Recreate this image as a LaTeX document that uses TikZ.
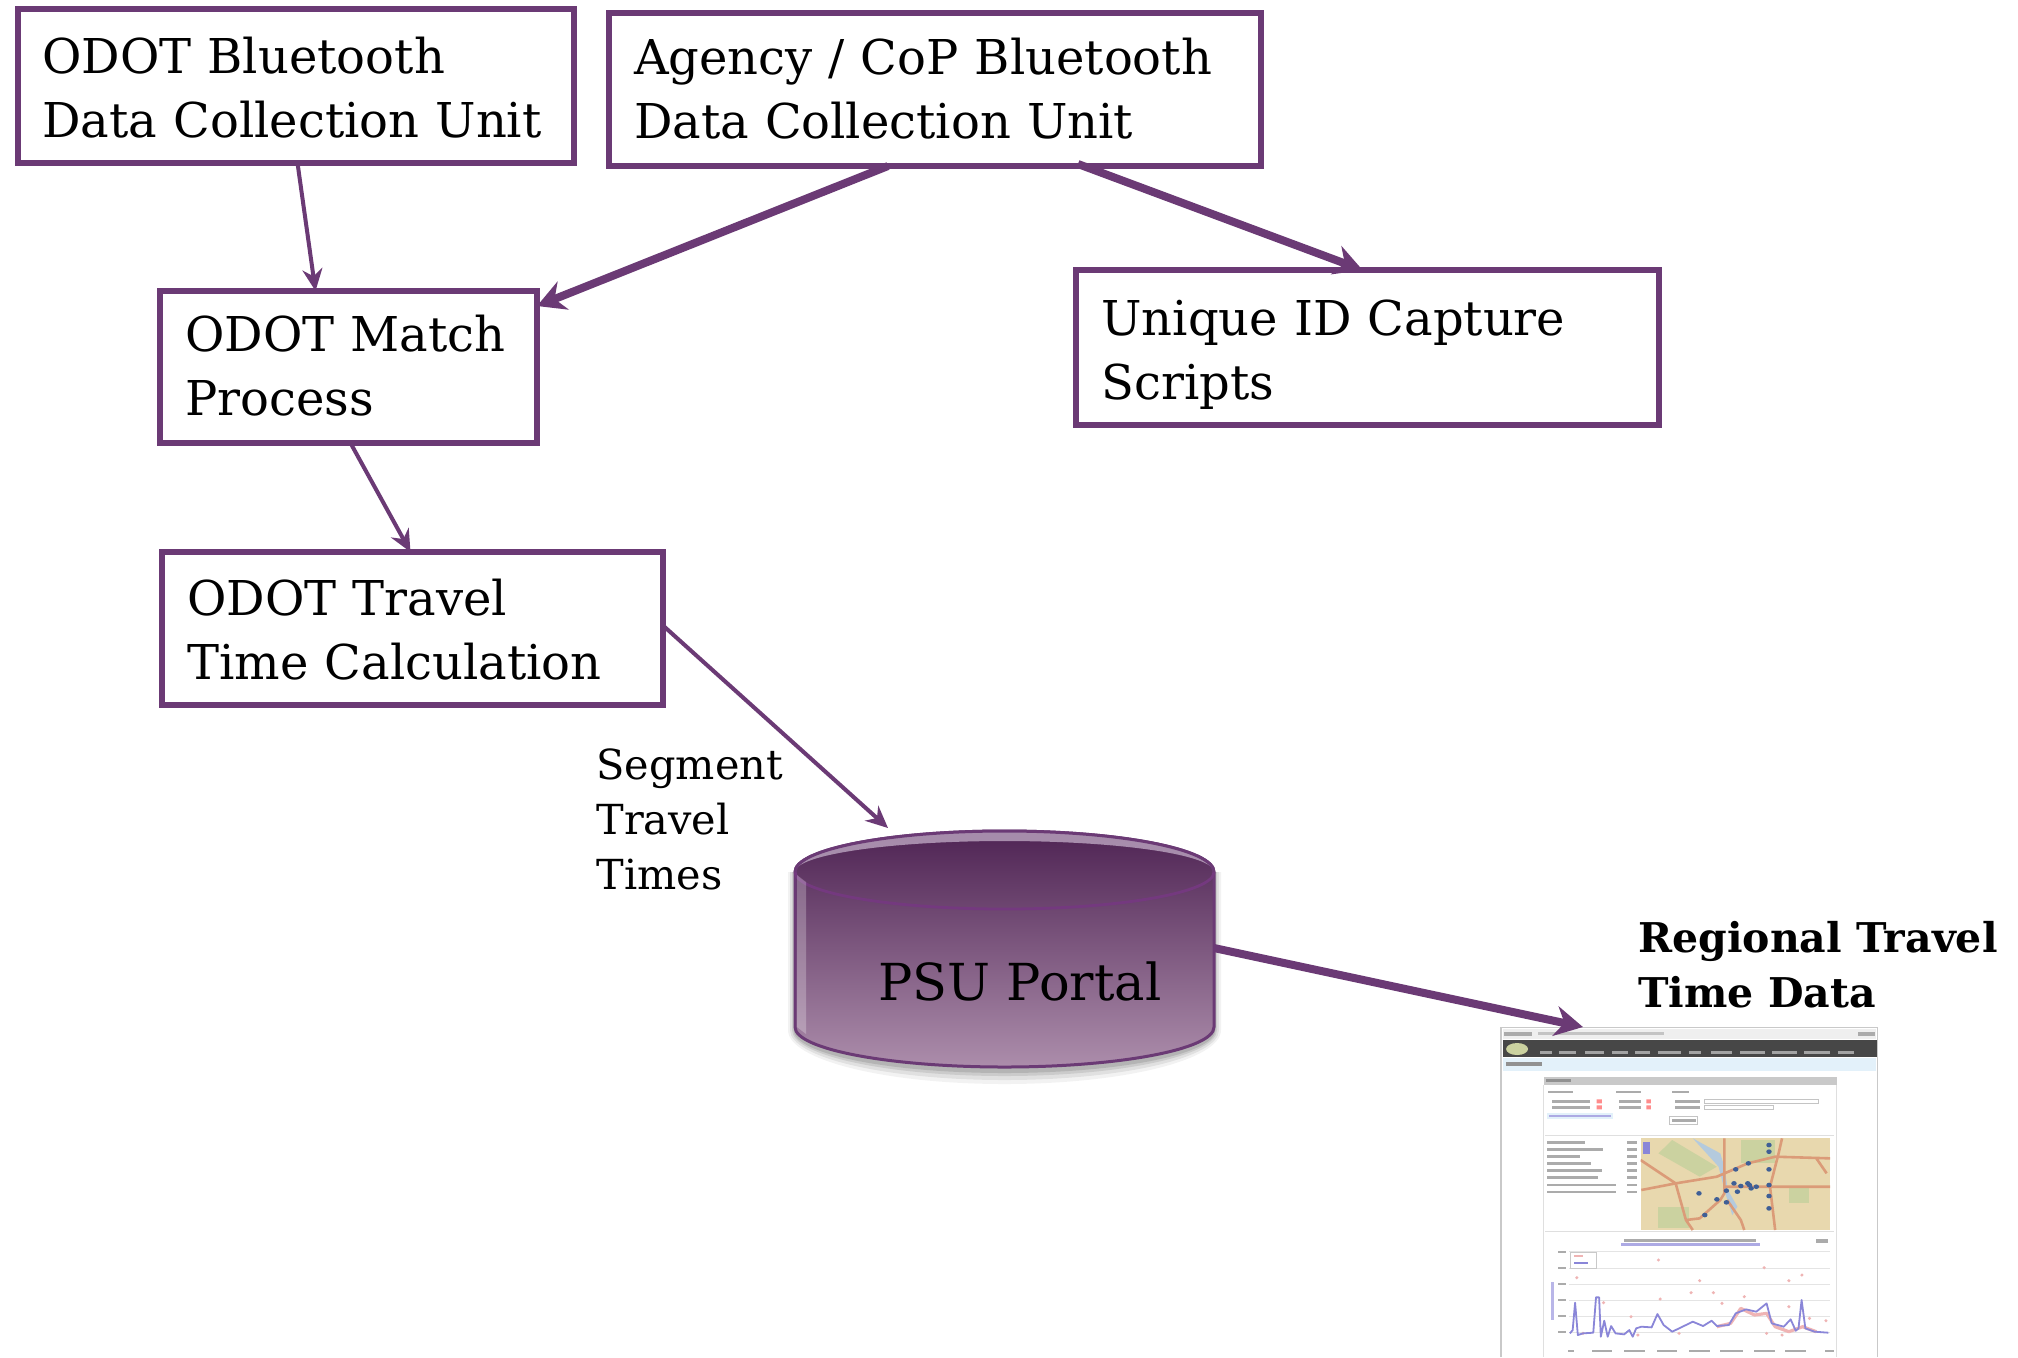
\documentclass[tikz,border=0pt]{standalone}
\usepackage{fontspec}
\setmainfont{DejaVu Serif}
\usetikzlibrary{arrows.meta,calc}
\definecolor{plum}{HTML}{6B3A75}
\definecolor{plumrim}{HTML}{74397F}
\definecolor{plumdark}{HTML}{4F2454}
\definecolor{plumlight}{HTML}{AC8DAB}
\definecolor{shotbar}{HTML}{474747}
\definecolor{shotblue}{HTML}{E3F1FA}
\definecolor{shotgrey}{HTML}{C9C9C9}
\definecolor{greytext}{HTML}{ABABAB}
\definecolor{maptan}{HTML}{E8D8AE}
\definecolor{maproad}{HTML}{DB9B78}
\definecolor{mapwater}{HTML}{B4CADD}
\definecolor{mapgreen}{HTML}{CBD2A0}
\definecolor{mapdot}{HTML}{3F5F96}
\definecolor{lineblue}{HTML}{8A86D8}
\definecolor{linered}{HTML}{EFB4B4}
\tikzset{
  stepbox/.style={draw=plum,line width=3pt,fill=white,inner sep=0pt,outer sep=0pt,rectangle,
    align=left,font=\fontsize{24}{32}\selectfont},
  thinarrow/.style={draw=plum,line width=2pt,-{Stealth[length=11pt,width=10pt]}},
  thickarrow/.style={draw=plum,line width=4pt,-{Stealth[length=14pt,width=15pt]}},
  freetext/.style={inner sep=0pt,align=left,anchor=north west},
}
\newcommand{\boxlines}[3][0pt]{\rule{0pt}{\dimexpr26pt-#1\relax}#2\\#3\rule[\dimexpr-7pt-#1\relax]{0pt}{\dimexpr7pt+#1\relax}}
\begin{document}
\begin{tikzpicture}[x=0.5pt,y=-0.5pt]
\useasboundingbox[fill=white] (0,0) rectangle (2018,1357);

% boxes
\node[stepbox,minimum width=278pt,minimum height=77pt,text width=253pt] (odotunit) at (295.5,86) {\boxlines{ODOT Bluetooth}{Data Collection Unit}};
\node[stepbox,minimum width=326pt,minimum height=76.5pt,text width=301pt] (agencyunit) at (935,89.5) {\boxlines[1pt]{Agency / CoP Bluetooth}{Data Collection Unit}};
\node[stepbox,minimum width=188.5pt,minimum height=76pt,text width=163pt] (match) at (348.5,367) {\boxlines[1.3pt]{ODOT Match}{Process}};
\node[stepbox,minimum width=291.5pt,minimum height=77.5pt,text width=266pt] (capture) at (1367.5,347.5) {\boxlines[-.65pt]{Unique ID Capture}{Scripts}};
\node[stepbox,minimum width=250.5pt,minimum height=76.5pt,text width=225pt] (travel) at (412.5,628.5) {\boxlines{ODOT Travel}{Time Calculation}};

% cylinder shadow
\foreach \g/\o in {14/.05,10/.07,6/.09,3/.11}{
  \fill[black,opacity=\o] (795-\g/2,872) -- (795-\g/2,1030) arc[start angle=180,end angle=0,x radius=209.5+\g/2,y radius=40+\g] -- (1214+\g/2,872) -- cycle;
}
% cylinder
\path[draw=plum,line width=1.5pt,top color=plumdark,bottom color=plumlight]
  (795,872) arc[start angle=180,end angle=360,x radius=209.5,y radius=41]
  -- (1214,1027) arc[start angle=0,end angle=180,x radius=209.5,y radius=40] -- cycle;
\fill[plum!45!white,opacity=.8]
  (795,872) arc[start angle=180,end angle=360,x radius=209.5,y radius=41]
  arc[start angle=360,end angle=180,x radius=209.5,y radius=31] -- cycle;
\draw[plumrim,line width=1.4pt] (795,872) arc[start angle=180,end angle=0,x radius=209.5,y radius=37];
\fill[white,opacity=.25] (797,875) -- (806,882) -- (806,1034) -- (797,1027) -- cycle;
\draw[plum,line width=1.5pt] (795,872) arc[start angle=180,end angle=360,x radius=209.5,y radius=41];
\node[freetext,anchor=base west,font=\fontsize{25.5}{32}\selectfont] (portal) at (878,1000) {PSU Portal};
\coordinate (portalright) at (1214,948);
\coordinate (portaltop) at (888,828);

% free labels
\node[freetext,font=\fontsize{20.7}{27.7}\selectfont] (segment) at (596,748) {Segment\\Travel\\Times};
\node[freetext,font=\bfseries\fontsize{20.5}{27.5}\selectfont] (regional) at (1638,921) {Regional Travel\\Time Data};

% screenshot
\begin{scope}[shift={(1480,900)},x=0.1716pt,y=-0.16667pt]
  \coordinate (shottop) at (300,381);
  \fill[white] (62,383) rectangle (1158,1371);
  \draw[shotgrey,line width=.8pt] (62,1371) -- (62,383) -- (1158,383) -- (1158,1371);
  \fill[shotgrey!30] (66,388) rectangle (1154,418);
  \fill[greytext] (70,395) rectangle (150,407);
  \fill[greytext!70] (170,396) rectangle (535,405);
  \fill[greytext] (1100,395) rectangle (1150,407);
  \fill[shotbar] (66,420) rectangle (1156,472);
  \fill[mapgreen] (108,447) ellipse [x radius=32,y radius=18];
  \foreach \a/\b in {175/210,230/280,305/360,385/430,452/495,518/585,608/645,672/735,758/830,852/925,945/1020,1042/1090}{
    \fill[shotbar!50] (\a,453) rectangle (\b,463);
  }
  \fill[shotblue] (66,474) rectangle (1154,514);
  \fill[shotbar!60] (75,486) rectangle (182,497);
  % form panel
  \fill[shotgrey] (185,530) rectangle (1040,555);
  \fill[shotbar!60] (192,537) rectangle (265,547);
  \draw[shotgrey!60,line width=.5pt] (185,555) -- (185,1371) (1040,555) -- (1040,1371);
  \foreach \a/\b/\c in {198/270/576,395/468/576,558/610/576,
     210/320/604,210/320/622,405/470/604,405/470/622,568/640/604,568/640/622}{
    \fill[greytext] (\a,\c-4) rectangle (\b,\c+4);
  }
  \fill[red!45] (340,598) rectangle (355,610) (340,616) rectangle (355,628) (485,598) rectangle (498,610) (485,616) rectangle (498,628);
  \draw[greytext!70,line width=.5pt] (655,598) rectangle (985,610) (655,616) rectangle (855,628);
  \fill[shotblue] (195,638) rectangle (388,658);
  \fill[lineblue!70] (200,644) rectangle (382,652);
  \draw[greytext!70,line width=.5pt,fill=white] (552,650) rectangle (635,672);
  \fill[greytext] (560,657) rectangle (628,665);
  \draw[shotgrey!60,line width=.5pt] (190,706) -- (1030,706) (190,995) -- (1030,995);
  % stats list
  \foreach \c/\w in {727/305,748/358,769/292,791/322,812/355,833/345,855/395,876/395}{
    \fill[greytext] (195,\c-4) rectangle (\w,\c+4);
    \fill[greytext] (428,\c-4) rectangle (458,\c+4);
  }
  % map
  \fill[maptan] (468,715) rectangle (1020,990);
  \begin{scope}
    \clip (468,715) rectangle (1020,990);
    \fill[mapgreen] (560,720) -- (690,800) -- (640,830) -- (520,760) -- cycle;
    \fill[mapgreen] (760,720) rectangle (860,790);
    \fill[mapgreen] (900,860) rectangle (960,910);
    \fill[mapgreen] (520,920) rectangle (610,985);
    \fill[mapwater] (620,715) -- (700,760) -- (712,800) -- (722,870) -- (750,920) -- (735,945) -- (715,880) -- (695,800) -- (660,760) -- cycle;
    \draw[maproad,line width=1.3pt,line join=round]
      (468,780) -- (570,850) -- (600,960) -- (620,990)
      (470,870) -- (570,850) -- (690,830) -- (780,790) -- (860,770) -- (1020,775)
      (712,715) -- (712,880) -- (700,900) -- (640,955)
      (880,715) -- (870,760) -- (845,860) -- (860,990)
      (715,860) -- (860,860) -- (1020,860)
      (720,900) -- (760,960) -- (770,990)
      (980,775) -- (1010,820)
      (600,960) -- (640,955) -- (700,900);
    \foreach \p/\q in {842/735,842/755,745/808,782/790,842/808,740/850,760/858,785/855,805/860,842/855,718/872,750/875,638/880,842/888,690/898,718/907,842/925,655/945,790/865,780/850}{
      \fill[mapdot] (\p,\q) circle [x radius=8,y radius=7];
    }
    \fill[lineblue] (475,725) rectangle (495,762);
  \end{scope}
  % chart
  \fill[lineblue!70] (410,1030) rectangle (815,1038);
  \fill[greytext] (420,1018) rectangle (805,1027);
  \fill[greytext] (980,1018) rectangle (1015,1030);
  \foreach \c in {1055,1104,1152,1200,1248,1297}{
    \draw[shotgrey!50,line width=.4pt] (260,\c) -- (1020,\c);
    \fill[greytext] (228,\c-3) rectangle (250,\c+3);
  }
  \fill[lineblue!60] (208,1145) rectangle (216,1260);
  \draw[shotgrey,fill=white,line width=.5pt] (265,1058) rectangle (340,1105);
  \fill[linered] (275,1066) rectangle (300,1071);
  \fill[lineblue] (275,1087) rectangle (315,1092);
  \foreach \p/\q in {282/1133,520/1080,828/1103,900/1142,938/1125,640/1142,360/1208,525/1197,615/1178,680/1178,440/1250,770/1190,705/1210,1008/1262,880/1305,835/1300,580/1300,460/1305,300/1300,960/1255,900/1220}{
    \fill[linered] (\p,\q) circle [radius=5];
  }
  \draw[linered,line width=1.6pt,line join=round]
    (690,1280) -- (730,1270) -- (760,1225) -- (800,1245) -- (835,1240) -- (860,1280) -- (900,1295) -- (940,1280) -- (980,1295);
  \draw[lineblue,line width=.9pt,line join=round]
    (262,1300) -- (270,1290) -- (277,1208) -- (285,1305) -- (300,1300) -- (330,1298) -- (338,1192) -- (347,1192) -- (352,1310)
    -- (362,1262) -- (372,1310) -- (382,1278) -- (395,1300) -- (420,1303) -- (435,1290) -- (445,1310) -- (455,1285) -- (470,1280)
    -- (500,1282) -- (517,1242) -- (535,1275) -- (560,1295) -- (590,1280) -- (620,1265) -- (650,1278) -- (675,1262) -- (690,1278)
    -- (725,1275) -- (745,1240) -- (775,1228) -- (805,1235) -- (835,1210) -- (850,1270) -- (885,1280) -- (905,1258) -- (920,1292)
    -- (928,1285) -- (937,1200) -- (948,1285) -- (975,1295) -- (1015,1298);
  \foreach \p/\w in {255/275,325/385,420/480,515/575,610/670,700/765,797/860,890/950,1005/1030}{
    \fill[greytext] (\p,1349) rectangle (\w,1356);
  }
\end{scope}

% connectors
\draw[thinarrow] ([xshift=1pt]odotunit.south) -- ([xshift=-16.5pt]match.north);
\draw[thickarrow] ([xshift=-23.5pt]agencyunit.south) -- ([yshift=-7.5pt]match.north east);
\draw[thickarrow] ([xshift=71.5pt,yshift=1pt]agencyunit.south) -- ([xshift=-2.5pt]capture.north);
\draw[thinarrow] ([xshift=1pt]match.south) -- ([xshift=-1pt]travel.north);
\draw[thinarrow] ([yshift=1.5pt]travel.east) -- (portaltop);
\draw[thickarrow] (portalright) -- (shottop);
\end{tikzpicture}
\end{document}
